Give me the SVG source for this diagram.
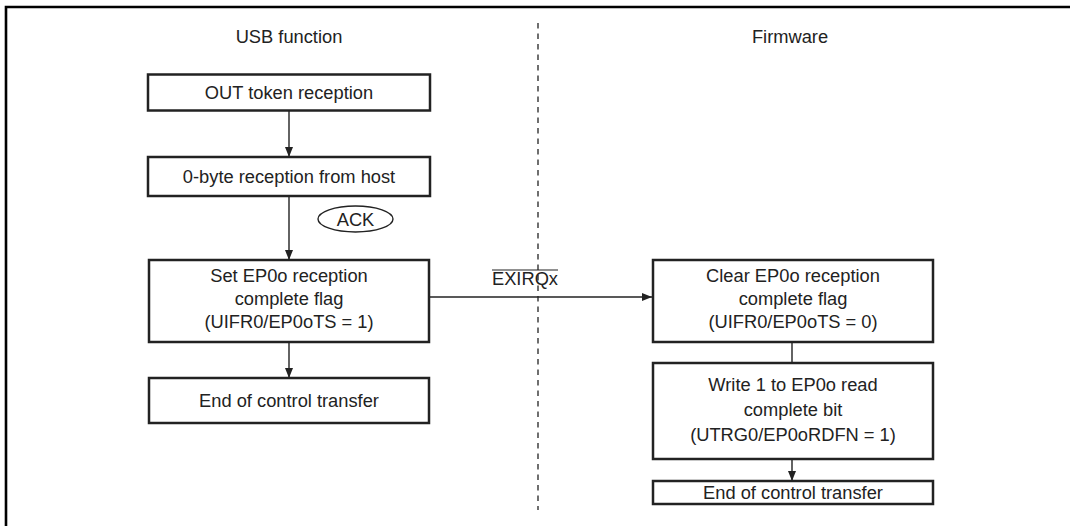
<svg xmlns="http://www.w3.org/2000/svg" width="1070" height="526" viewBox="0 0 1070 526">
<style>
.box{fill:#fff;stroke:#222;stroke-width:2.5}
.t{font-family:"Liberation Sans",Arial,Helvetica,sans-serif;font-size:18.3px;fill:#222;text-anchor:middle}
.c{stroke:#222;stroke-width:1.4;fill:none}
.frame{stroke:#000;stroke-width:2.6;fill:none}
</style>
<defs>
<marker id="ah" markerWidth="10" markerHeight="8" refX="10" refY="4" orient="auto" markerUnits="userSpaceOnUse">
<path d="M0,0 L10,4 L0,8 Z" fill="#222"/>
</marker>
</defs>
<rect width="1070" height="526" fill="#fff"/>
<path class="frame" d="M6,526 V7 H1070"/>
<g id="headers">
<text class="t" x="289" y="43">USB function</text>
<text class="t" x="790" y="43">Firmware</text>
</g>
<line x1="538" y1="23" x2="538" y2="510" stroke="#222" stroke-width="1.3" stroke-dasharray="5.5,5"/>
<g id="connectors">
<line class="c" x1="289" y1="111" x2="289" y2="157" marker-end="url(#ah)"/>
<line class="c" x1="289" y1="196" x2="289" y2="260" marker-end="url(#ah)"/>
<line class="c" x1="289" y1="342" x2="289" y2="378" marker-end="url(#ah)"/>
<line class="c" x1="430" y1="297" x2="652" y2="297" marker-end="url(#ah)"/>
<line class="c" x1="792" y1="342" x2="792" y2="363"/>
<line class="c" x1="792" y1="459" x2="792" y2="481" marker-end="url(#ah)"/>
</g>
<g id="ack">
<ellipse cx="355.5" cy="219" rx="37.5" ry="13" fill="#fff" stroke="#222" stroke-width="1.4"/>
<text class="t" x="355.5" y="225.5">ACK</text>
</g>
<g id="exirq">
<text class="t" x="525" y="285">EXIRQx</text>
<line x1="492" y1="270" x2="558" y2="270" stroke="#222" stroke-width="1.2"/>
</g>
<g id="n1">
<rect class="box" x="148" y="74.5" width="282" height="36"/>
<text class="t" x="289" y="98.5">OUT token reception</text>
</g>
<g id="n2">
<rect class="box" x="148" y="157" width="282" height="39"/>
<text class="t" x="289" y="183">0-byte reception from host</text>
</g>
<g id="n3">
<rect class="box" x="149" y="260" width="280" height="82"/>
<text class="t" x="289" y="282">Set EP0o reception</text>
<text class="t" x="289" y="305">complete flag</text>
<text class="t" x="289" y="328">(UIFR0/EP0oTS = 1)</text>
</g>
<g id="n4">
<rect class="box" x="149" y="378" width="280" height="45"/>
<text class="t" x="289" y="407">End of control transfer</text>
</g>
<g id="n5">
<rect class="box" x="653" y="260" width="280" height="82"/>
<text class="t" x="793" y="282">Clear EP0o reception</text>
<text class="t" x="793" y="305">complete flag</text>
<text class="t" x="793" y="328">(UIFR0/EP0oTS = 0)</text>
</g>
<g id="n6">
<rect class="box" x="653" y="363" width="280" height="96"/>
<text class="t" x="793" y="391">Write 1 to EP0o read</text>
<text class="t" x="793" y="416">complete bit</text>
<text class="t" x="793" y="441">(UTRG0/EP0oRDFN = 1)</text>
</g>
<g id="n7">
<rect class="box" x="653" y="481" width="280" height="23"/>
<text class="t" x="793" y="499">End of control transfer</text>
</g>
</svg>
